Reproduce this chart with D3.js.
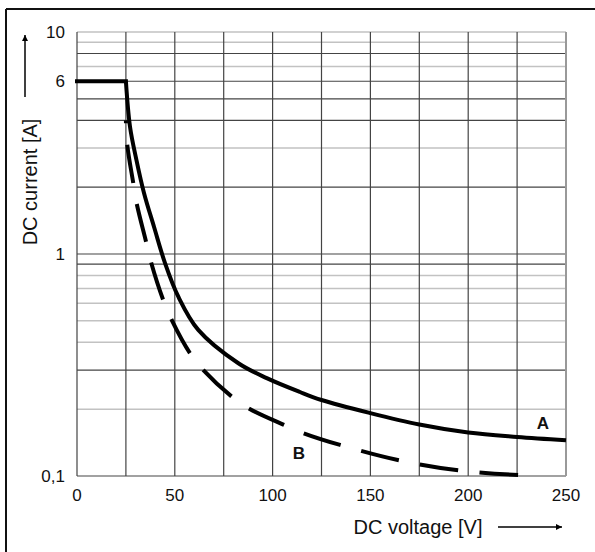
<!DOCTYPE html>
<html>
<head>
<meta charset="utf-8">
<script src="https://cdn.jsdelivr.net/npm/d3@7"></script>
<style>
  body { margin: 0; background: #fff; }
  text { font-family: "Liberation Sans", Arial, sans-serif; fill: #111; }
</style>
</head>
<body>
<div id="container"></div>
<script>
// flat limit at 6 A, then curve A (solid) and curve B (dashed): [voltage V, current A]
const flatA = [[0, 6], [25, 6]];
const curveA = [[25, 6], [27.1, 3.745], [30.4, 2.65], [34.25, 1.883], [39.4, 1.323], [45.0, 0.91],
  [51.8, 0.642], [62, 0.455], [82.5, 0.322], [97, 0.276], [114, 0.239], [125, 0.22],
  [150, 0.192], [175, 0.1706], [200, 0.157], [225, 0.15], [250, 0.145]];
const curveB = [[25, 4.0], [25.7, 3.1], [28.8, 2.08], [30.5, 1.69], [35.3, 1.136], [37.9, 0.916],
  [44.1, 0.62], [48.4, 0.505], [57.8, 0.357], [64.6, 0.30], [79.1, 0.228], [87.6, 0.202],
  [105.8, 0.17], [115.7, 0.156], [134.5, 0.138], [164, 0.118], [195, 0.106], [225.5, 0.101]];

const xTicks = [0, 50, 100, 150, 200, 250];
const xGrid = [0, 25, 50, 75, 100, 125, 150, 175, 200, 225, 250];
const yTicks = [10, 6, 1, 0.1];
const yTickLabels = ["10", "6", "1", "0,1"];
// horizontal grid lines, dark ones and light ones
const yGridDark = [8, 6, 5, 4, 2, 1, 0.9, 0.3, 0.1];
const yGridLight = [10, 9, 7, 3, 0.8, 0.7, 0.6, 0.5, 0.4, 0.2];

const width = 595, height = 552;
const mLeft = 77, mRight = 566, mTop = 32, mBottom = 476;

const svg = d3.select('#container').append('svg')
  .attr('width', width).attr('height', height);

// frame (top and left only)
svg.append('line').attr('x1', 6).attr('y1', 9).attr('x2', width).attr('y2', 9)
  .attr('stroke', '#111').attr('stroke-width', 2);
svg.append('line').attr('x1', 6).attr('y1', 9).attr('x2', 6).attr('y2', height)
  .attr('stroke', '#111').attr('stroke-width', 2);

const x = d3.scaleLinear().domain([0, 250]).range([mLeft, mRight]);
const y = d3.scaleLog().domain([0.1, 10]).range([mBottom, mTop]);

// grid
const g = svg.append('g');
g.selectAll('.hl').data(yGridLight).enter().append('line')
  .attr('x1', x(0)).attr('x2', x(250))
  .attr('y1', d => y(d)).attr('y2', d => y(d))
  .attr('stroke', '#c2c2c2').attr('stroke-width', 1.5);
g.selectAll('.hd').data(yGridDark).enter().append('line')
  .attr('x1', x(0)).attr('x2', x(250))
  .attr('y1', d => y(d)).attr('y2', d => y(d))
  .attr('stroke', '#444').attr('stroke-width', 1.2);
g.selectAll('.v').data(xGrid).enter().append('line')
  .attr('x1', d => x(d)).attr('x2', d => x(d))
  .attr('y1', y(10)).attr('y2', y(0.1))
  .attr('stroke', d => d === 250 ? '#999' : '#444')
  .attr('stroke-width', d => d === 250 ? 2 : 1.2);

// tick labels
svg.selectAll('.xt').data(xTicks).enter().append('text')
  .attr('x', d => x(d)).attr('y', mBottom + 25)
  .attr('text-anchor', 'middle').style('font-size', '17px')
  .text(d => d);
svg.selectAll('.yt').data(yTicks).enter().append('text')
  .attr('x', 65).attr('y', d => y(d) + 6)
  .attr('text-anchor', 'end').style('font-size', '17px')
  .text((d, i) => yTickLabels[i]);

// curves
const line = d3.line().x(d => x(d[0])).y(d => y(d[1])).curve(d3.curveCatmullRom.alpha(0.5));
const pathB = svg.append('path').attr('d', line(curveB))
  .attr('fill', 'none').attr('stroke', '#000').attr('stroke-width', 4);
// dashes: short stub at the start, then 38/21, stretched so the line ends on a dash
const lenB = pathB.node().getTotalLength();
const k = Math.round((lenB - 3) / 59);
const s = (lenB - 3) / k / 59;
pathB.attr('stroke-dasharray', (38 * s) + ',' + (21 * s))
  .attr('stroke-dashoffset', 38 * s - 3);
svg.append('path').attr('d', d3.line().x(d => x(d[0])).y(d => y(d[1]))(flatA))
  .attr('fill', 'none').attr('stroke', '#000').attr('stroke-width', 4)
  .attr('stroke-linecap', 'square');
svg.append('path').attr('d', line(curveA))
  .attr('fill', 'none').attr('stroke', '#000').attr('stroke-width', 4);

svg.append('text').attr('x', 543).attr('y', 429).attr('text-anchor', 'middle')
  .style('font-size', '17px').style('font-weight', 'bold').text('A');
svg.append('text').attr('x', 299).attr('y', 459).attr('text-anchor', 'middle')
  .style('font-size', '17px').style('font-weight', 'bold').text('B');

// axis titles with arrows
svg.append('defs').append('marker')
  .attr('id', 'arr').attr('viewBox', '0 0 10 10').attr('refX', 10).attr('refY', 5)
  .attr('markerWidth', 8).attr('markerHeight', 6).attr('orient', 'auto')
  .attr('markerUnits', 'userSpaceOnUse')
  .append('path').attr('d', 'M0,0L10,5L0,10z').attr('fill', '#000');
svg.append('text').attr('x', 418).attr('y', 534).attr('text-anchor', 'middle')
  .style('font-size', '20px').text('DC voltage [V]');
svg.append('line').attr('x1', 498).attr('y1', 527).attr('x2', 562).attr('y2', 527)
  .attr('stroke', '#000').attr('stroke-width', 1.5).attr('marker-end', 'url(#arr)');

svg.append('text').attr('transform', 'translate(37,182) rotate(-90)')
  .attr('text-anchor', 'middle').style('font-size', '20px').text('DC current [A]');
svg.append('line').attr('x1', 25).attr('y1', 97).attr('x2', 25).attr('y2', 35)
  .attr('stroke', '#000').attr('stroke-width', 1.5).attr('marker-end', 'url(#arr)');
</script>
</body>
</html>
